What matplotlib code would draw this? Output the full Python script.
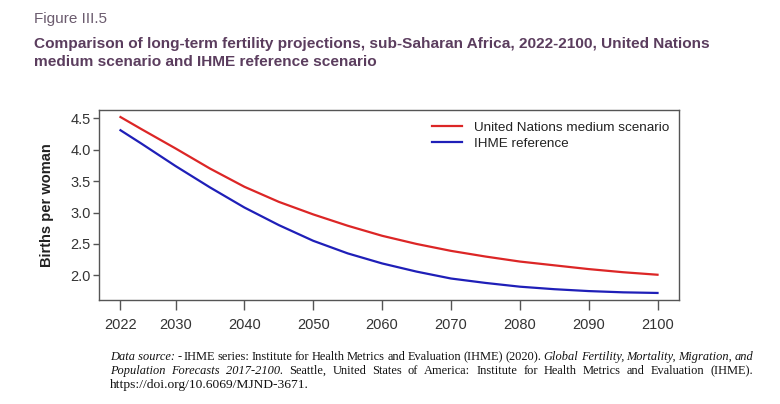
import matplotlib
matplotlib.use("Agg")
import matplotlib.pyplot as plt

years = [2022, 2025, 2030, 2035, 2040, 2045, 2050, 2055, 2060, 2065, 2070, 2075, 2080, 2085, 2090, 2095, 2100]
un_medium = [4.52, 4.33, 4.02, 3.70, 3.41, 3.17, 2.97, 2.79, 2.63, 2.50, 2.39, 2.30, 2.22, 2.16, 2.10, 2.05, 2.01]
ihme_ref = [4.31, 4.10, 3.74, 3.40, 3.08, 2.80, 2.55, 2.35, 2.19, 2.06, 1.95, 1.88, 1.82, 1.78, 1.75, 1.73, 1.72]
x_ticks = [2022, 2030, 2040, 2050, 2060, 2070, 2080, 2090, 2100]
y_ticks = [2.0, 2.5, 3.0, 3.5, 4.0, 4.5]
series_labels = ["United Nations medium scenario", "IHME reference"]

W, H = 780, 404
fig = plt.figure(figsize=(W / 100, H / 100), dpi=100)
fig.patch.set_facecolor("white")

def fx(px):
    return px / W

def fy(py):
    return 1 - py / H

ax = fig.add_axes([fx(99), fy(300), fx(679) - fx(99), fy(110) - fy(300)])
red = "#dc2626"
blue = "#1f1fb8"
ax.plot(years, un_medium, color=red, lw=1.6, label=series_labels[0])
ax.plot(years, ihme_ref, color=blue, lw=1.6, label=series_labels[1])

xr = years[-1] - years[0]
ax.set_xlim(years[0] - 0.04 * xr, years[-1] + 0.04 * xr)
lo = min(ihme_ref); hi = max(un_medium)
yr = hi - lo
ax.set_ylim(lo - 0.04 * yr, hi + 0.04 * yr)
ax.set_xticks(x_ticks)
ax.set_yticks(y_ticks)
ax.set_yticklabels([f"{v:.1f}" for v in y_ticks])
for s in ax.spines.values():
    s.set_color("#555555")
    s.set_linewidth(1.0)
ax.tick_params(axis="both", direction="out", width=1.0, color="#555555",
               labelsize=10.5, labelcolor="#333333")
ax.tick_params(axis="x", length=7, pad=6)
ax.tick_params(axis="y", length=4, pad=2)
for lab in ax.get_xticklabels() + ax.get_yticklabels():
    lab.set_fontfamily("Liberation Sans")

ax.set_ylabel("Births per woman", fontsize=10.5, fontweight="bold", family="Liberation Sans",
              color="#222222", labelpad=12)

leg = ax.legend(loc="upper right", bbox_to_anchor=(1.0, 0.99), frameon=False,
                prop={"family": "Liberation Sans", "size": 9.7}, handlelength=2.2,
                handletextpad=0.9, labelspacing=0.25, borderaxespad=0.3)
for t in leg.get_texts():
    t.set_color("#222222")

# Titles
fig.text(fx(34), fy(19), "Figure III.5", family="Liberation Sans", fontsize=11,
         color="#6b5b6e", va="center", ha="left")
fig.text(fx(34), fy(44), "Comparison of long-term fertility projections, sub-Saharan Africa, 2022-2100, United Nations",
         family="Liberation Sans", fontsize=11.1, fontweight="bold", color="#5b3d5e", va="center", ha="left")
fig.text(fx(34), fy(62), "medium scenario and IHME reference scenario",
         family="Liberation Sans", fontsize=11.1, fontweight="bold", color="#5b3d5e", va="center", ha="left")

# Justified footnote
foot_lines = [
    [("Data source:", "italic"), ("-", "normal"), ("IHME", "normal"), ("series:", "normal"),
     ("Institute", "normal"), ("for", "normal"), ("Health", "normal"), ("Metrics", "normal"),
     ("and", "normal"), ("Evaluation", "normal"), ("(IHME)", "normal"), ("(2020).", "normal"),
     ("Global", "italic"), ("Fertility,", "italic"), ("Mortality,", "italic"), ("Migration,", "italic"),
     ("and", "italic")],
    [("Population", "italic"), ("Forecasts", "italic"), ("2017-2100.", "italic"), ("Seattle,", "normal"),
     ("United", "normal"), ("States", "normal"), ("of", "normal"), ("America:", "normal"),
     ("Institute", "normal"), ("for", "normal"), ("Health", "normal"), ("Metrics", "normal"),
     ("and", "normal"), ("Evaluation", "normal"), ("(IHME).", "normal")],
    [("https://doi.org/10.6069/MJND-3671.", "normal")],
]
foot_y = [357, 371, 385]
foot_fs = [8.9, 8.9, 9.7]
x0, x1 = 110, 753
fig.canvas.draw()
renderer = fig.canvas.get_renderer()
for li, (words, ypx) in enumerate(zip(foot_lines, foot_y)):
    arts = []
    for w, st in words:
        t = fig.text(0, fy(ypx), w, family="Liberation Serif", fontsize=foot_fs[li], style=st,
                     color="#111111", va="center", ha="left")
        arts.append(t)
    widths = [a.get_window_extent(renderer).width for a in arts]
    if li < len(foot_lines) - 1 and len(arts) > 1:
        gap = (x1 - x0 - sum(widths)) / (len(arts) - 1)
    else:
        gap = 3
    xc = x0
    for a, wd in zip(arts, widths):
        a.set_x(fx(xc))
        xc += wd + gap

fig.savefig("out.png", dpi=100, facecolor="white")
